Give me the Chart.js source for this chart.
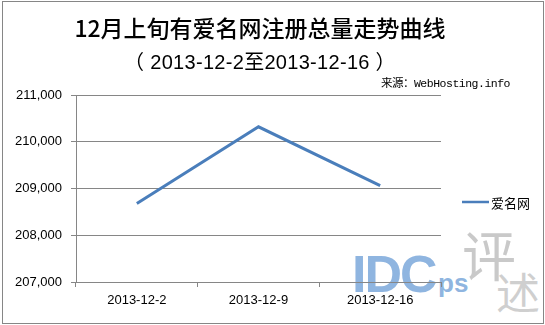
<!DOCTYPE html>
<html lang="zh">
<head>
  <meta charset="UTF-8">
  <title>12月上旬有爱名网注册总量走势曲线</title>
  <script src="https://cdn.jsdelivr.net/npm/chart.js"></script>
  <style>
    html, body { margin: 0; padding: 0; background: #fff; }
    .wrap {
      position: relative;
      width: 545px;
      height: 325px;
      overflow: hidden;
      font-family: "Liberation Sans", Arial, sans-serif;
    }
    .frame {
      position: absolute;
      left: 2px; top: 1px;
      width: 540px; height: 321px;
      border: 1px solid #868686;
    }
    #chart { position: absolute; left: 0; top: 0; }
    .title {
      position: absolute;
      left: 60px; width: 400px; top: 13px;
      text-align: center;
      font: 500 23px/28px "Noto Sans CJK SC", sans-serif;
      color: #000;
    }
    .subtitle {
      position: absolute;
      left: 60px; width: 400px; top: 50px;
      text-align: center;
      font: 20px/24px "Liberation Sans", "Noto Sans CJK SC", sans-serif;
      letter-spacing: 0.3px;
      color: #000;
    }
    .source {
      position: absolute;
      right: 35px; top: 77px;
      font: 11.5px/14px "Liberation Mono", "Noto Sans CJK SC", monospace;
      letter-spacing: -0.5px;
      color: #000;
    }
    .wm { position: absolute; white-space: nowrap; }
    .wm-idc {
      left: 352px; top: 246px;
      font: bold 52px/56px "Liberation Sans", sans-serif;
      color: #8fb5e0;
      letter-spacing: -2px;
    }
    .wm-ps {
      left: 438px; top: 268px;
      font: bold 26px/30px "Liberation Sans", sans-serif;
      color: #8fb5e0;
    }
    .wm-ping {
      left: 462px; top: 224px;
      font: 54px/60px "Noto Sans CJK SC", sans-serif;
      color: #c9c9c9;
    }
    .wm-shu {
      left: 496px; top: 266px;
      font: 44px/50px "Noto Sans CJK SC", sans-serif;
      color: #cfcfcf;
    }
  </style>
</head>
<body>
<div class="wrap">
  <div class="wm wm-idc">IDC</div>
  <div class="wm wm-ps">ps</div>
  <div class="wm wm-ping">评</div>
  <div class="wm wm-shu">述</div>
  <canvas id="chart" width="545" height="325"></canvas>
  <div class="frame"></div>
  <div class="title">12月上旬有爱名网注册总量走势曲线</div>
  <div class="subtitle">（ 2013-12-2至2013-12-16 ）</div>
  <div class="source">来源：WebHosting.info</div>
</div>

<script>
  const dates = ['2013-12-2', '2013-12-9', '2013-12-16'];
  const seriesName = '爱名网';
  const totals = [208680, 210320, 209060];
  const yMin = 207000;
  const yMax = 211000;
  const yStep = 1000;

  const axisGray = '#868686';
  const lineBlue = '#4a7ebb';

  // legend drawn at a fixed spot to the right of the plot, like the original
  const sideLegend = {
    id: 'sideLegend',
    afterDraw(chart) {
      const c = chart.ctx;
      const ds = chart.data.datasets[0];
      const y = 202;
      c.save();
      c.strokeStyle = ds.borderColor;
      c.lineWidth = 2.5;
      c.beginPath();
      c.moveTo(462, y);
      c.lineTo(489, y);
      c.stroke();
      c.fillStyle = '#000';
      c.font = '13px "Noto Sans CJK SC", sans-serif';
      c.textBaseline = 'middle';
      c.fillText(ds.label, 491, y + 1);
      c.restore();
    }
  };

  const chart = new Chart(document.getElementById('chart'), {
    type: 'line',
    data: {
      labels: dates,
      datasets: [{
        label: seriesName,
        data: totals,
        borderColor: lineBlue,
        backgroundColor: lineBlue,
        borderWidth: 3,
        pointRadius: 0,
        tension: 0,
        fill: false
      }]
    },
    options: {
      responsive: false,
      animation: false,
      layout: { padding: { top: 95, right: 104, bottom: 13, left: 0 } },
      plugins: {
        legend: { display: false },
        title: { display: false },
        tooltip: { enabled: false }
      },
      scales: {
        x: {
          offset: true,
          afterFit(scale) { scale.height = 30; },
          grid: {
            offset: true,
            drawOnChartArea: false,
            color: axisGray,
            tickLength: 5
          },
          border: { color: axisGray, width: 1 },
          ticks: {
            color: '#000',
            padding: 6,
            maxRotation: 0,
            font: { family: '"Liberation Sans", Arial, sans-serif', size: 13 }
          }
        },
        y: {
          min: yMin,
          max: yMax,
          afterFit(scale) { scale.width = 76; },
          grid: { color: axisGray, tickLength: 5 },
          border: { color: axisGray, width: 1 },
          ticks: {
            stepSize: yStep,
            color: '#000',
            padding: 9,
            font: { family: '"Liberation Sans", Arial, sans-serif', size: 13 },
            callback: v => v.toLocaleString('en-US')
          }
        }
      }
    },
    plugins: [sideLegend]
  });
</script>
</body>
</html>
